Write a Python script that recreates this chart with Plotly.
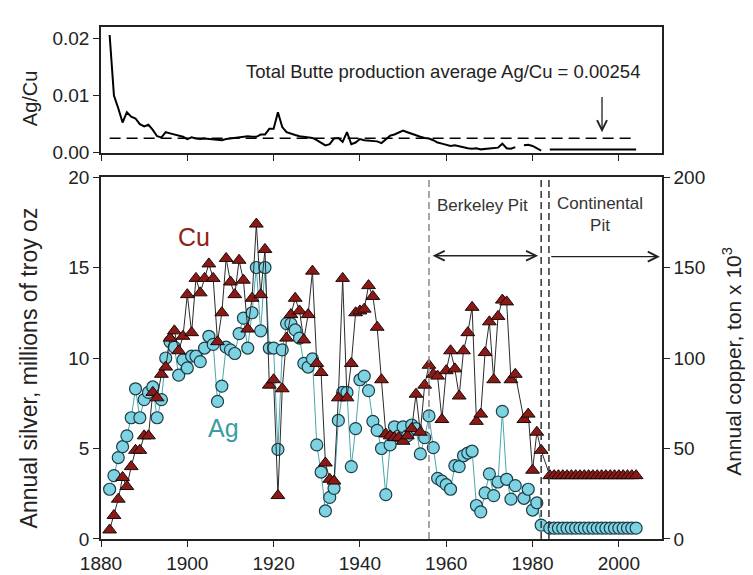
import plotly.graph_objects as go

# ---------------- data ----------------
years = list(range(1882, 2005))

# Annual copper, thousand tons (right axis)
cu_kt = [
    5, 13, 22, 34, 29, 40, 49, 49,                      # 1882-1889
    57, 57, 81, 78, 91, 95, 111, 115, 104, 112,         # 1890s
    135, 114, 144, 136, 144, 152, 144, 109, 125, 155,   # 1900s
    142, 135, 154, 143, 116, 133, 174, 135, 160, 85,    # 1910s
    88, 24, 83, 111, 124, 133, 126, 110, 124, 148,      # 1920s
    97, 92, 42, 33, 32, 78, 144, 78, 97, 125,           # 1930s
    126, 127, 140, 134, 117, 88, 58, 57, 56, 56,        # 1940s
    54, 57, 61, 80, 59, 85, 96, 91, 90, 66,             # 1950s
    93, 104, 94, 79, 104, 114, 128, 65, 69, 103,        # 1960s
    120, 88, 123, 132, 131, 88, 91, None, 66, 69,       # 1970s
    38, 59, 49, None, 35, 35, 35, 35, 35, 35,           # 1980s
    35, 35, 35, 35, 35, 35, 35, 35, 35, 35,             # 1990s
    35, 35, 35, 35, 35,                                 # 2000-2004
]

# Annual silver, millions of troy oz (left axis)
ag_moz = [
    2.75, 3.5, 4.5, 5.1, 5.7, 6.7, 8.3, 6.7,
    7.7, 8.1, 8.4, 6.7, 7.7, 10.0, 10.9, 10.6, 9.05, 9.9,
    9.45, 10.1, 10.1, 9.8, 10.55, 11.2, 10.75, 7.6, 8.45, 10.6,
    10.45, 10.25, 11.35, 12.2, 10.55, 12.5, 15.0, 11.5, 15.0, 10.55,
    10.55, 4.95, 10.45, 11.9, 11.9, 11.55, 11.1, 9.7, 9.5, 9.95,
    5.2, 3.7, 1.55, 2.3, 2.8, 6.55, 8.1, 8.1, 4.0, 6.1,
    8.8, 9.0, 8.2, 6.5, 6.0, 5.0, 2.45, 5.2, 6.2, 5.7,
    6.2, 5.7, 6.3, 6.1, 4.7, 5.6, 6.8, 5.05, 3.35, 3.2,
    3.0, 2.75, 4.05, 4.0, 4.6, 4.75, 4.85, 1.85, 1.5, 2.55,
    3.6, 2.4, 3.15, 7.05, 3.3, 2.2, 2.95, None, 2.25, 2.75,
    1.6, 2.0, 0.77, None, 0.6, 0.6, 0.6, 0.6, 0.6, 0.6,
    0.6, 0.6, 0.6, 0.6, 0.6, 0.6, 0.6, 0.6, 0.6, 0.6,
    0.6, 0.6, 0.6, 0.6, 0.6,
]

# Ag/Cu ratio (top panel)
ag_cu_ratio = [
    0.0206, 0.0100, 0.0078, 0.0053, 0.0071, 0.0063, 0.0060, 0.0050,
    0.0046, 0.0049, 0.0040, 0.0029, 0.0027, 0.0036, 0.0034, 0.0032, 0.0030, 0.0028,
    0.0024, 0.0027, 0.0025, 0.0024, 0.0025, 0.0024, 0.0024, 0.0023, 0.0022, 0.0024,
    0.0025, 0.0026, 0.0026, 0.0028, 0.0029, 0.0028, 0.0028, 0.0032, 0.0032, 0.0042,
    0.0042, 0.0071, 0.0045, 0.0036, 0.0033, 0.0031, 0.0029, 0.0028, 0.0027, 0.0026,
    0.0022, 0.0018, 0.0013, 0.0015, 0.0025, 0.0026, 0.0019, 0.0036, 0.0015, 0.0018,
    0.0024, 0.0022, 0.0021, 0.0020, 0.0020, 0.0017, 0.0024, 0.0030, 0.0032, 0.0036,
    0.0039, 0.0036, 0.0033, 0.0030, 0.0028, 0.0026, 0.0025, 0.0022, 0.0018, 0.0016,
    0.0014, 0.0012, 0.0013, 0.0011, 0.0010, 0.0008, 0.0007, 0.0008, 0.0006, 0.0007,
    0.0008, 0.0009, 0.0009, 0.0016, 0.0008, 0.0007, 0.0010, None, 0.0013, 0.0014,
    0.0012, 0.0008, 0.0004, None, 0.00056, 0.00056, 0.00056, 0.00056, 0.00056, 0.00056,
    0.00056, 0.00056, 0.00056, 0.00056, 0.00056, 0.00056, 0.00056, 0.00056, 0.00056, 0.00056,
    0.00056, 0.00056, 0.00056, 0.00056, 0.00056,
]

avg_ratio = 0.00254
avg_span = [1882, 2004]
pit_bounds = [1956, 1982, 1983.8]
berkeley_span = [1956.5, 1981.3]
continental_span = [1984, 2009.5]
year_ticks = [1880, 1900, 1920, 1940, 1960, 1980, 2000]
ag_ticks = [0, 5, 10, 15, 20]
cu_ticks = [0, 50, 100, 150, 200]
ratio_ticks = [0.00, 0.01, 0.02]

# ---------------- styling ----------------
FONT = "Liberation Sans, Arial, sans-serif"
AX = "#222222"
TXT = "#222222"
XR = [1880, 2010]

fig = go.Figure()

fig.add_trace(go.Scatter(
    x=years, y=ag_moz, mode="lines+markers", connectgaps=True,
    line=dict(color="#4aa6ae", width=1),
    marker=dict(symbol="circle", size=12, color="#7ed3e3",
                line=dict(color="#1d3d47", width=1.2)),
    xaxis="x", yaxis="y", showlegend=False, hoverinfo="skip"))

fig.add_trace(go.Scatter(
    x=years, y=cu_kt, mode="lines+markers", connectgaps=True,
    line=dict(color="#2b2b2b", width=1),
    marker=dict(symbol="triangle-up", size=12, color="#8b1a16",
                line=dict(color="#1a0808", width=1)),
    xaxis="x", yaxis="y2", showlegend=False, hoverinfo="skip"))

fig.add_trace(go.Scatter(
    x=years, y=ag_cu_ratio, mode="lines", connectgaps=False,
    line=dict(color="black", width=2),
    xaxis="x2", yaxis="y3", showlegend=False, hoverinfo="skip"))

fig.add_trace(go.Scatter(
    x=avg_span, y=[avg_ratio, avg_ratio], mode="lines",
    line=dict(color="black", width=1.5, dash="11px,6px"),
    xaxis="x2", yaxis="y3", showlegend=False, hoverinfo="skip"))

tickfont = dict(family=FONT, size=19, color=TXT)
common_x = dict(range=XR, tickvals=year_ticks, showgrid=False, zeroline=False,
                linecolor=AX, linewidth=1.5, tickcolor=AX, ticklen=6, tickwidth=1.2)

fig.update_layout(
    width=753, height=575,
    margin=dict(l=93, r=99, t=9, b=37),
    paper_bgcolor="white", plot_bgcolor="white",
    font=dict(family=FONT, color=TXT),
    showlegend=False,
    xaxis=dict(common_x, domain=[0, 1], anchor="y", ticks="outside",
               showline=True, mirror=True, tickfont=tickfont),
    xaxis3=dict(common_x, overlaying="x", side="top", anchor="y",
                ticks="inside", showline=False, showticklabels=False),
    yaxis=dict(domain=[0, 0.707], range=[0, 20], tickvals=ag_ticks,
               ticks="outside", ticklen=6, tickwidth=1.2, tickcolor=AX,
               showline=True, linecolor=AX, linewidth=1.5,
               showgrid=False, zeroline=False, tickfont=tickfont, anchor="x"),
    yaxis2=dict(overlaying="y", side="right", anchor="x", range=[0, 200],
                tickvals=cu_ticks, ticks="outside", ticklen=6, tickwidth=1.2,
                tickcolor=AX, showline=True, linecolor=AX, linewidth=1.5,
                showgrid=False, zeroline=False, tickfont=tickfont),
    xaxis2=dict(common_x, domain=[0, 1], anchor="y3", ticks="outside",
                showline=True, mirror=True, showticklabels=False),
    xaxis4=dict(common_x, overlaying="x2", side="top", anchor="y3",
                ticks="inside", showline=False, showticklabels=False),
    yaxis3=dict(domain=[0.7543, 1], anchor="x2", range=[0, 0.0220],
                tickvals=ratio_ticks, tickformat=".2f", ticks="outside",
                ticklen=6, tickwidth=1.2, tickcolor=AX, showline=True,
                mirror=True, linecolor=AX, linewidth=1.5, showgrid=False,
                zeroline=False, tickfont=tickfont),
)

# pit boundary dashed lines
shapes = []
for i, b in enumerate(pit_bounds):
    shapes.append(dict(type="line", xref="x", yref="y domain", x0=b, x1=b, y0=0, y1=1,
                       line=dict(color="#8a8a8a" if i == 0 else "#333333",
                                 width=1.5, dash="7px,4px")))
fig.update_layout(shapes=shapes)

ann = []
# axis titles
ann.append(dict(text="Annual silver, millions of troy oz", xref="paper", yref="paper",
                x=-0.1266, y=0.335, textangle=-90, showarrow=False,
                xanchor="center", yanchor="middle",
                font=dict(family=FONT, size=23, color=TXT)))
ann.append(dict(text="Annual copper, ton x 10<sup>3</sup>", xref="paper", yref="paper",
                x=1.1248, y=0.346, textangle=-90, showarrow=False,
                xanchor="center", yanchor="middle",
                font=dict(family=FONT, size=21, color=TXT)))
ann.append(dict(text="Ag/Cu", xref="paper", yref="paper",
                x=-0.1266, y=0.861, textangle=-90, showarrow=False,
                xanchor="center", yanchor="middle",
                font=dict(family=FONT, size=20, color=TXT)))
# series labels
ann.append(dict(text="Cu", x=1901.5, y=16.7, xref="x", yref="y", showarrow=False,
                font=dict(family=FONT, size=25, color="#8e2216")))
ann.append(dict(text="Ag", x=1908.3, y=6.15, xref="x", yref="y", showarrow=False,
                font=dict(family=FONT, size=25, color="#3a9da2")))
# pit labels
ann.append(dict(text="Berkeley Pit", x=1968.5, y=18.4, xref="x", yref="y", showarrow=False,
                font=dict(family=FONT, size=17, color="#333333")))
ann.append(dict(text="Continental<br>Pit", x=1995.6, y=17.95, xref="x", yref="y",
                showarrow=False, align="center",
                font=dict(family=FONT, size=17, color="#333333")))
# pit arrows
ann.append(dict(text="", x=berkeley_span[1], y=15.65, ax=berkeley_span[0], ay=15.65,
                xref="x", yref="y", axref="x", ayref="y", showarrow=True,
                arrowhead=5, startarrowhead=5, arrowside="end+start",
                arrowsize=1.5, startarrowsize=1.5, arrowwidth=1.3,
                arrowcolor="#222222", standoff=0, startstandoff=0))
ann.append(dict(text="", x=continental_span[1], y=15.6, ax=continental_span[0], ay=15.6,
                xref="x", yref="y", axref="x", ayref="y", showarrow=True,
                arrowhead=5, arrowsize=1.5, arrowwidth=1.3,
                arrowcolor="#222222", standoff=0))
# top panel text and arrow
ann.append(dict(text="Total Butte production average Ag/Cu = 0.00254",
                x=1959.3, y=0.01424, xref="x2", yref="y3", showarrow=False,
                font=dict(family=FONT, size=18.5, color=TXT)))
ann.append(dict(text="", x=1996.1, y=0.0036, ax=1996.1, ay=0.0100,
                xref="x2", yref="y3", axref="x2", ayref="y3", showarrow=True,
                arrowhead=5, arrowsize=1.5, arrowwidth=1.3, arrowcolor="#222222",
                standoff=0))
fig.update_layout(annotations=ann)

fig.write_html("out.html")
